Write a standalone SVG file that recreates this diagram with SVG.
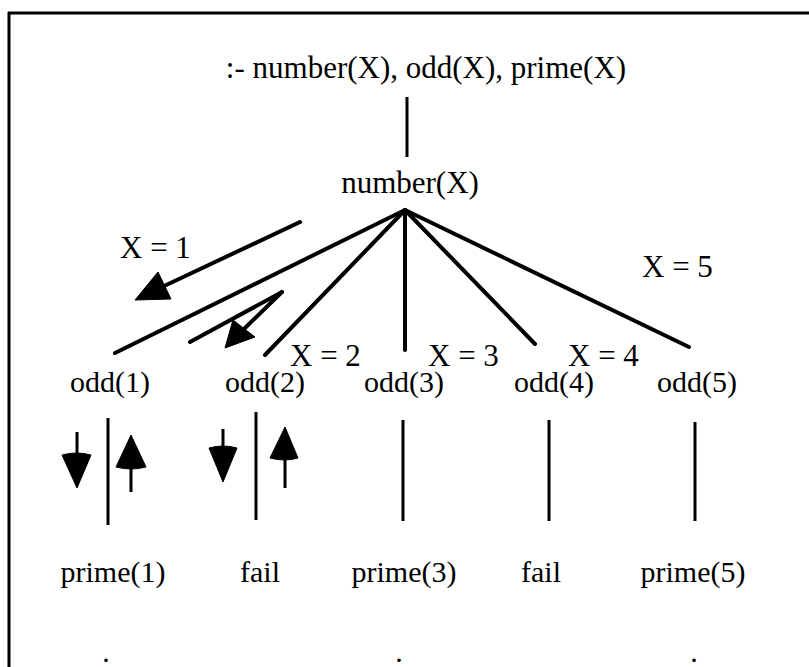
<svg xmlns="http://www.w3.org/2000/svg" width="809" height="667" viewBox="0 0 809 667">
<style>
  text { font-family: "Liberation Serif", "Times New Roman", serif; fill: #000; }
  .n { font-size: 30px; text-anchor: middle; }
  .lbl { font-size: 31px; }
  .edge { stroke: #000; stroke-width: 4; stroke-linecap: round; fill: none; }
  .vl { stroke: #000; stroke-width: 3; fill: none; }
  .head { fill: #000; stroke: #000; stroke-width: 1; stroke-linejoin: round; }
  .frame { stroke: #000; stroke-width: 3; fill: none; }
</style>
<rect x="0" y="0" width="809" height="667" fill="#fff"/>
<g id="frame">
  <line class="frame" x1="8" y1="13" x2="809" y2="13"/>
  <line class="frame" x1="9" y1="12" x2="9" y2="667"/>
</g>

<g id="connectors">
  <line class="vl" x1="407" y1="97" x2="407" y2="157"/>
  <line class="edge" x1="405" y1="210" x2="115" y2="353"/>
  <line class="edge" x1="405" y1="210" x2="265" y2="355"/>
  <line class="edge" x1="405" y1="210" x2="405" y2="350"/>
  <line class="edge" x1="405" y1="210" x2="535" y2="344"/>
  <line class="edge" x1="405" y1="210" x2="689" y2="347"/>
  <line class="vl" x1="108" y1="418" x2="108" y2="525"/>
  <line class="vl" x1="256" y1="412" x2="256" y2="520"/>
  <line class="vl" x1="403" y1="420" x2="403" y2="521"/>
  <line class="vl" x1="549" y1="420" x2="549" y2="521"/>
  <line class="vl" x1="695" y1="422" x2="695" y2="521"/>
</g>

<g id="arrow-x1">
  <line class="edge" x1="300" y1="222" x2="162" y2="287"/>
  <path class="head" d="M135,300 L158,272 L171,299 Z"/>
</g>
<g id="arrow-x2">
  <line class="edge" x1="282" y1="292" x2="190" y2="342"/>
  <line class="edge" x1="282" y1="292" x2="245" y2="328"/>
  <path class="head" d="M225,348 L233,320 L255,337 Z"/>
</g>
<g id="arrows-odd1">
  <line class="vl" x1="77" y1="432" x2="77" y2="460"/>
  <path class="head" d="M62,455 Q77,451 91,455 L77,488 Z"/>
  <line class="vl" x1="131" y1="462" x2="131" y2="492"/>
  <path class="head" d="M116,467 Q131,471 146,467 L131,435 Z"/>
</g>
<g id="arrows-odd2">
  <line class="vl" x1="223" y1="429" x2="223" y2="452"/>
  <path class="head" d="M209,448 Q223,444 237,448 L223,482 Z"/>
  <line class="vl" x1="285" y1="455" x2="285" y2="488"/>
  <path class="head" d="M270,458 Q285,462 298,458 L285,427 Z"/>
</g>

<g id="labels">
  <text class="lbl" x="120" y="258">X = 1</text>
  <text class="lbl" x="290" y="366">X = 2</text>
  <text class="lbl" x="428" y="366">X = 3</text>
  <text class="lbl" x="568" y="366">X = 4</text>
  <text class="lbl" x="642" y="277">X = 5</text>
</g>

<g id="goal"><text class="n" style="font-size:31px" x="426" y="78">:- number(X), odd(X), prime(X)</text></g>
<g id="number"><text class="n" style="font-size:31px" x="410" y="193">number(X)</text></g>
<g id="odd1"><text class="n" x="110" y="392">odd(1)</text></g>
<g id="odd2"><text class="n" x="265" y="392">odd(2)</text></g>
<g id="odd3"><text class="n" x="404" y="392">odd(3)</text></g>
<g id="odd4"><text class="n" x="554" y="392">odd(4)</text></g>
<g id="odd5"><text class="n" x="697" y="392">odd(5)</text></g>
<g id="prime1"><text class="n" x="113" y="582">prime(1)</text></g>
<g id="fail2"><text class="n" x="260" y="582">fail</text></g>
<g id="prime3"><text class="n" x="404" y="582">prime(3)</text></g>
<g id="fail4"><text class="n" x="541" y="582">fail</text></g>
<g id="prime5"><text class="n" x="693" y="582">prime(5)</text></g>
<g id="dot1"><text class="n" x="106" y="662">.</text></g>
<g id="dot3"><text class="n" x="399" y="662">.</text></g>
<g id="dot5"><text class="n" x="694" y="662">.</text></g>
</svg>
